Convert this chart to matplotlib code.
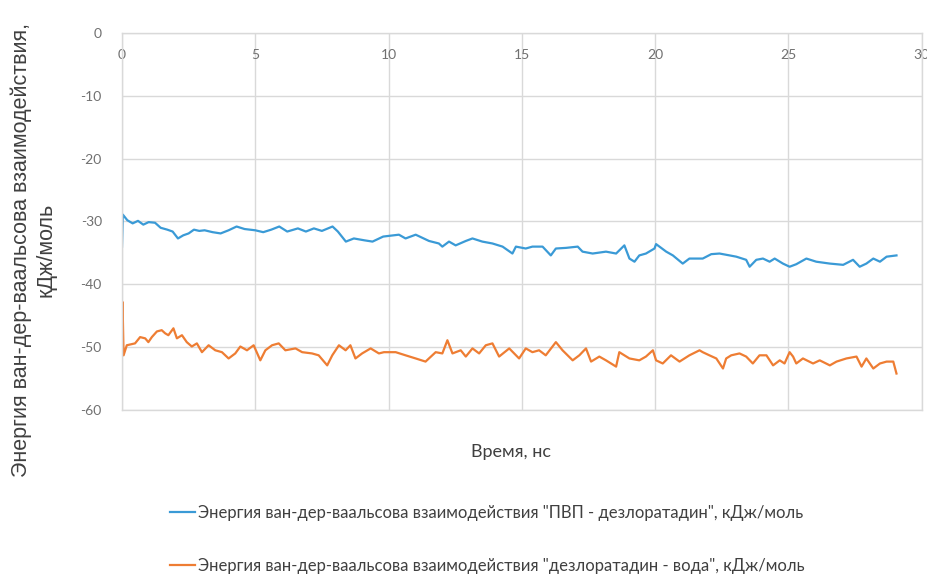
import matplotlib
matplotlib.use('Agg')
import matplotlib.pyplot as plt

# van der Waals interaction energy over the MD trajectory, kJ/mol
pvp_t = [0.0, 0.03, 0.2, 0.4, 0.6, 0.8, 1.0, 1.24, 1.45, 1.7, 1.9, 2.1, 2.3, 2.5, 2.7,
         2.9, 3.1, 3.4, 3.7, 4.0, 4.3, 4.6, 5.0, 5.3, 5.6, 5.9, 6.2, 6.6, 6.9, 7.2,
         7.5, 7.9, 8.1, 8.4, 8.7, 9.1, 9.4, 9.8, 10.39, 10.64, 11.02, 11.52, 11.89,
         12.02, 12.27, 12.52, 12.9, 13.15, 13.52, 13.9, 14.28, 14.65, 14.78, 15.15,
         15.4, 15.78, 16.09, 16.28, 16.66, 17.1, 17.28, 17.66, 18.16, 18.54, 18.85,
         19.04, 19.23, 19.41, 19.66, 19.98, 20.04, 20.42, 20.67, 21.04, 21.29, 21.79,
         22.11, 22.42, 22.8, 23.05, 23.42, 23.55, 23.8, 24.05, 24.3, 24.49, 24.8,
         25.05, 25.3, 25.68, 26.05, 26.56, 27.06, 27.43, 27.68, 27.93, 28.19, 28.44,
         28.69, 29.06]
pvp_e = [-34.0, -28.9, -29.8, -30.3, -29.9, -30.5, -30.1, -30.2, -31.0, -31.3, -31.6,
         -32.7, -32.2, -31.9, -31.3, -31.5, -31.4, -31.7, -31.9, -31.4, -30.8, -31.2,
         -31.4, -31.7, -31.3, -30.8, -31.6, -31.1, -31.6, -31.1, -31.5, -30.8, -31.6,
         -33.2, -32.7, -33.0, -33.2, -32.4, -32.1, -32.7, -32.1, -33.1, -33.5, -34.0,
         -33.2, -33.8, -33.1, -32.7, -33.2, -33.5, -34.0, -35.1, -34.0, -34.3, -34.0,
         -34.0, -35.4, -34.3, -34.2, -34.0, -34.8, -35.1, -34.8, -35.1, -33.8, -35.9,
         -36.4, -35.4, -35.1, -34.3, -33.6, -34.8, -35.4, -36.7, -35.9, -35.9, -35.2,
         -35.1, -35.4, -35.6, -36.1, -37.2, -36.1, -35.9, -36.4, -35.9, -36.7, -37.2,
         -36.8, -35.9, -36.4, -36.7, -36.9, -36.1, -37.2, -36.7, -35.9, -36.4, -35.6,
         -35.4]

water_t = [0.0, 0.02, 0.06, 0.18, 0.49, 0.68, 0.87, 0.99, 1.12, 1.31, 1.49, 1.62, 1.74,
           1.93, 2.06, 2.25, 2.43, 2.62, 2.81, 3.0, 3.25, 3.5, 3.75, 4.0, 4.25, 4.44,
           4.69, 4.94, 5.19, 5.38, 5.63, 5.88, 6.13, 6.51, 6.76, 7.13, 7.38, 7.7, 7.89,
           8.14, 8.39, 8.57, 8.76, 9.01, 9.33, 9.64, 9.83, 10.27, 10.64, 11.02, 11.39,
           11.77, 12.02, 12.21, 12.4, 12.71, 12.9, 13.15, 13.4, 13.65, 13.9, 14.15,
           14.53, 14.9, 15.15, 15.4, 15.65, 15.9, 16.28, 16.53, 16.91, 17.16, 17.41,
           17.6, 17.91, 18.16, 18.54, 18.66, 19.04, 19.41, 19.66, 19.92, 20.04, 20.29,
           20.6, 20.92, 21.29, 21.67, 21.79, 22.04, 22.3, 22.55, 22.67, 22.86, 23.17,
           23.42, 23.67, 23.92, 24.18, 24.43, 24.68, 24.86, 25.05, 25.18, 25.3, 25.55,
           25.93, 26.18, 26.56, 26.81, 27.18, 27.56, 27.75, 27.93, 28.19, 28.44, 28.69,
           28.94, 29.06]
water_e = [-51.0, -42.8, -51.3, -49.7, -49.4, -48.4, -48.6, -49.2, -48.4, -47.5, -47.3,
           -47.8, -48.1, -47.0, -48.6, -48.1, -49.2, -49.9, -49.4, -50.8, -49.7, -50.5,
           -50.8, -51.8, -51.0, -49.9, -50.5, -49.7, -52.1, -50.5, -49.7, -49.4, -50.5,
           -50.2, -50.8, -51.0, -51.3, -52.9, -51.3, -49.7, -50.5, -49.7, -51.8, -51.0,
           -50.2, -51.0, -50.8, -50.8, -51.3, -51.8, -52.3, -50.8, -51.0, -48.9, -51.0,
           -50.5, -51.5, -50.2, -51.0, -49.7, -49.4, -51.5, -50.2, -51.8, -50.2, -50.8,
           -50.5, -51.3, -49.2, -50.5, -52.1, -51.3, -50.2, -52.3, -51.5, -52.1, -53.1,
           -50.8, -51.8, -52.1, -51.5, -50.5, -52.1, -52.6, -51.3, -52.3, -51.3, -50.5,
           -50.8, -51.3, -51.8, -53.4, -51.8, -51.3, -51.0, -51.5, -52.6, -51.3, -51.3,
           -52.9, -52.1, -52.6, -50.8, -51.5, -52.6, -51.8, -52.6, -52.1, -52.9, -52.3,
           -51.8, -51.5, -53.1, -51.8, -53.4, -52.6, -52.3, -52.3, -54.2]

label_pvp = 'Энергия ван-дер-ваальсова взаимодействия "ПВП - дезлоратадин", кДж/моль'
label_water = 'Энергия ван-дер-ваальсова взаимодействия "дезлоратадин - вода", кДж/моль'

x_ticks = [0, 5, 10, 15, 20, 25, 30]
y_ticks = [0, -10, -20, -30, -40, -50, -60]

plt.rcParams['font.family'] = ['Lato', 'DejaVu Sans']
plt.rcParams['axes.unicode_minus'] = False

fig = plt.figure(figsize=(9.27, 5.78), dpi=100)
ax = fig.add_axes([0.1316, 0.2907, 0.8625, 0.6522])

l1, = ax.plot(pvp_t, pvp_e, color='#3a9ad6', lw=1.6)
l2, = ax.plot(water_t, water_e, color='#ee7d33', lw=1.6)

ax.set_xlim(0, 30)
ax.set_ylim(-60, 0)
ax.set_xticks(x_ticks)
ax.set_yticks(y_ticks)
ax.grid(True, color='#d9d9d9', lw=1)
ax.set_axisbelow(True)
for s in ax.spines.values():
    s.set_color('#d9d9d9')
    s.set_linewidth(1)

# x labels sit just under the zero line at the top
ax.tick_params(axis='x', bottom=False, top=False, labelbottom=False, labeltop=True,
               pad=-24, labelsize=10, labelcolor='#707070')
ax.tick_params(axis='y', left=False, pad=11, labelsize=10, labelcolor='#707070')

fig.text(0.551, 0.218, 'Время, нс', ha='center', va='center', fontsize=13,
         color='#404040')
fig.text(0.036, 0.567, 'Энергия ван-дер-ваальсова взаимодействия,\nкДж/моль',
         rotation=90, ha='center', va='center', fontsize=15.5, color='#404040',
         family=['Liberation Sans', 'DejaVu Sans'], linespacing=1.25)

fig.legend([l1, l2], [label_pvp, label_water], loc='upper left',
           bbox_to_anchor=(0.183, 0.126), frameon=False, fontsize=12,
           handlelength=1.55, handletextpad=0.15, labelspacing=2.2,
           borderpad=0, borderaxespad=0, labelcolor='#404040')

fig.savefig('out.png', dpi=100)
